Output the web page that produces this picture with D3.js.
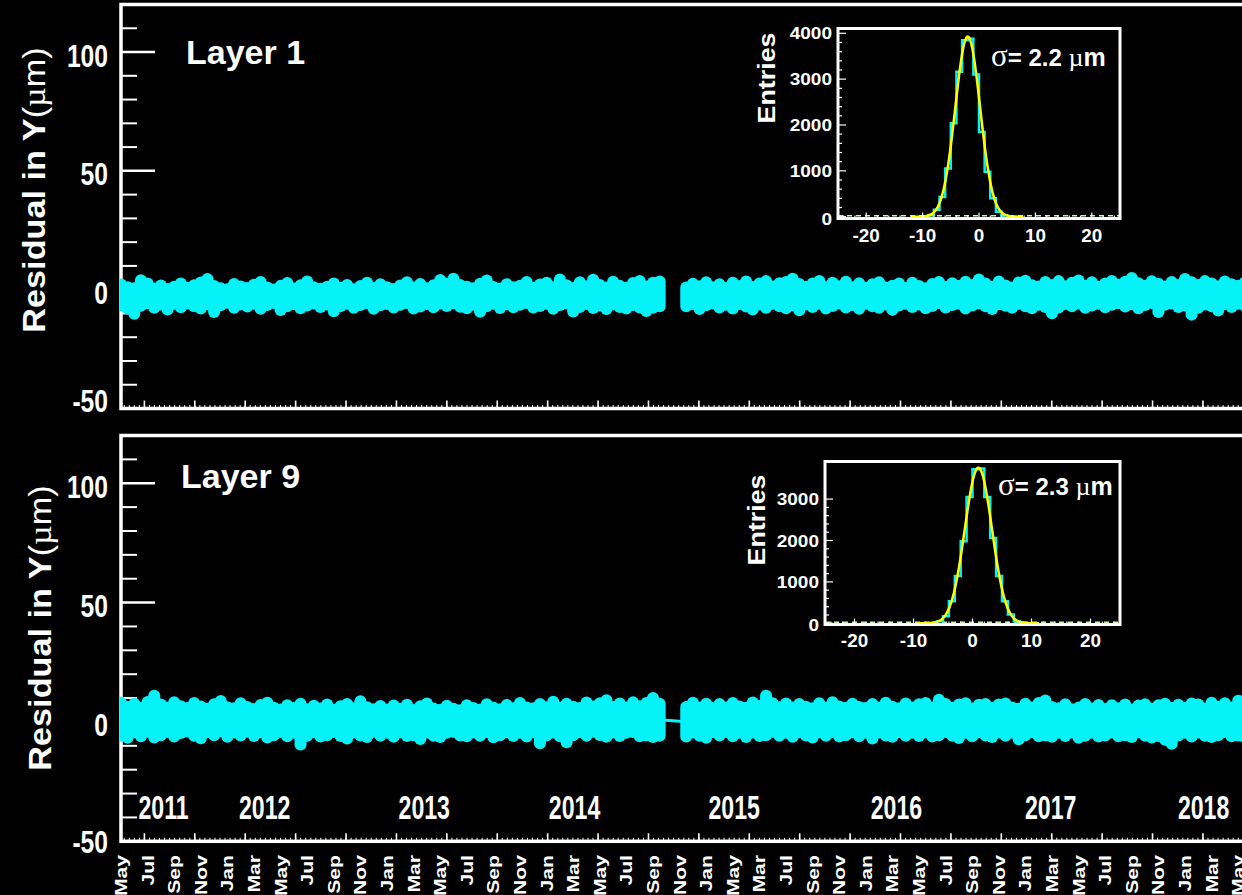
<!DOCTYPE html>
<html>
<head>
<meta charset="utf-8">
<script src="https://cdn.jsdelivr.net/npm/d3@7"></script>
<style>
  body { margin: 0; background: #000; }
  svg { display: block; }
</style>
</head>
<body>
<svg id="chart" width="1242" height="895"></svg>
<script>
// ---- data ----
// month labels under the lower panel, one every 2 months from May 2011 (as printed, incl. the odd 2015 order)
const monthLabels = ["May","Jul","Sep","Nov","Jan","Mar","May","Jul","Sep","Nov","Jan","Mar",
  "May","Jul","Sep","Nov","Jan","Mar","May","Jul","Sep","Nov","Jan","May","Mar","Jul","Sep","Nov",
  "Jan","Mar","May","Jul","Sep","Nov","Jan","Mar","May","Jul","Sep","Nov","Jan","Mar","May"];
const yearLabels = ["2011","2012","2013","2014","2015","2016","2017","2018"];
const yearLabelMonth = [3.2, 10.8, 22.8, 34.1, 46.1, 58.3, 69.9, 81.4]; // months since May 2011
const sampleStep = 0.5; // months between residual samples

// residual band (upper / lower envelope, um), one value per half month, null = no data
const layer1Hi = [2.2,1.0,0.6,4.0,2.6,0.5,1.8,0.3,1.2,2.6, 0.8,1.9,3.0,4.5,1.5,0.6,0.2,2.4,1.3,0.7,
  2.1,3.2,0.9,0.1,1.6,2.8,0.5,1.9,3.4,1.0, 0.4,1.2,2.6,0.8,2.0,0.2,1.5,2.9,0.7,2.3,
  1.0,0.3,1.8,3.1,0.9,2.4,0.6,1.9,4.1,2.5, 4.6,2.0,1.2,0.6,2.5,3.9,1.1,0.5,2.3,1.0,
  1.7,3.2,0.8,2.2,2.9,1.0,4.3,1.9,0.7,3.1, 1.4,4.2,2.0,0.9,3.3,1.6,0.8,2.8,3.7,1.3,
  2.9,3.4,null,null,null,0.9,2.5,1.4,3.1,1.0, 2.3,0.7,2.9,1.5,3.4,1.1,2.6,3.6,1.3,2.7,
  3.2,4.6,2.4,1.2,2.6,3.7,1.0,2.9,1.4,3.3, 1.0,2.7,0.8,2.3,3.1,0.9,1.7,2.6,0.7,2.9,
  1.5,0.6,2.4,3.2,1.1,2.7,1.6,3.3,2.0,4.3, 2.6,1.2,3.4,1.8,0.9,3.0,3.8,1.9,1.3,3.2,
  2.0,3.6,1.4,2.9,3.9,1.6,3.1,1.2,2.6,3.7, 2.1,3.3,4.9,2.7,1.6,3.5,2.5,1.3,3.2,2.0,
  4.5,3.1,2.0,3.6,2.6,1.4,3.4,2.3,1.6,3.0];
const layer1Lo = [-6.5,-7.9,-10.1,-6.8,-5.7,-7.6,-6.2,-8.3,-5.9,-7.4, -5.8,-7.0,-7.9,-6.1,-9.4,-6.6,-5.5,-7.6,-6.2,-7.1,
  -5.9,-8.0,-6.5,-5.6,-8.6,-7.0,-6.0,-7.8,-6.7,-5.8, -7.3,-6.2,-9.1,-7.0,-5.9,-7.6,-6.4,-5.7,-8.0,-6.6,
  -6.0,-7.5,-6.3,-5.6,-7.9,-7.1,-6.0,-7.4,-5.8,-6.9, -5.7,-7.2,-7.8,-6.3,-9.3,-7.0,-5.9,-7.7,-6.1,-7.4,
  -6.3,-5.6,-7.5,-6.9,-5.9,-8.0,-6.5,-5.8,-9.2,-7.3, -6.0,-7.7,-6.7,-8.1,-6.2,-7.3,-7.9,-6.4,-7.5,-9.0,
  -7.6,-7.0,null,null,null,-7.0,-6.0,-8.1,-6.6,-5.8, -7.5,-6.3,-7.9,-6.0,-7.1,-8.3,-6.2,-7.6,-5.9,-7.0,
  -7.8,-6.6,-8.7,-6.2,-7.3,-5.9,-7.9,-6.9,-5.8,-7.5, -6.4,-8.0,-5.9,-7.0,-7.6,-6.2,-8.5,-6.7,-5.9,-7.3,
  -6.2,-7.8,-6.9,-5.6,-7.5,-6.4,-5.9,-7.9,-6.7,-5.8, -7.0,-8.1,-6.1,-6.8,-7.6,-5.9,-7.0,-7.8,-6.3,-7.3,
  -9.9,-7.5,-6.0,-7.0,-5.8,-7.6,-6.7,-5.9,-7.4,-6.3, -5.7,-7.1,-6.1,-7.8,-6.5,-5.6,-9.4,-6.3,-5.8,-7.3,
  -6.7,-10.5,-7.6,-6.2,-7.0,-8.8,-6.0,-7.3,-5.9,-6.8];
const layer9Hi = [8.0,6.4,7.6,5.9,8.4,11.0,7.3,6.0,8.3,6.6, 5.8,7.9,6.5,5.5,7.4,8.8,6.2,5.7,7.8,6.3,
  5.4,7.1,8.0,5.9,5.2,7.0,5.8,7.6,5.3,6.8, 5.6,7.3,5.1,6.6,7.5,5.7,8.7,6.2,5.3,6.7,
  5.2,6.9,5.5,7.2,5.0,6.6,7.7,5.6,5.1,6.8, 5.5,4.9,7.0,5.8,5.2,7.4,6.0,5.3,7.1,5.7,
  7.9,6.1,5.7,7.5,6.2,8.5,5.9,7.6,6.4,5.8, 8.1,6.5,7.8,9.1,6.3,7.7,6.1,8.2,6.6,7.9,
  10.0,7.6,null,null,null,6.3,8.0,6.0,7.6,5.8, 7.5,6.1,7.9,6.5,5.9,8.1,6.7,11.0,7.8,6.2,
  7.7,6.0,7.5,6.4,5.7,7.8,6.1,8.3,6.5,5.9, 7.6,6.3,5.8,7.5,6.0,8.0,6.4,5.7,7.7,6.1,
  7.4,7.9,6.0,9.3,7.5,5.9,7.3,7.8,5.6,7.2, 7.5,5.8,7.3,7.7,6.0,5.5,7.6,6.1,7.9,9.0,
  6.3,5.7,7.4,5.3,6.0,7.5,5.6,7.1,5.4,7.0, 5.7,7.3,5.2,6.9,7.4,5.5,7.0,7.6,5.8,7.2,
  5.9,7.7,7.3,5.6,8.0,6.4,7.8,6.1,8.9,7.6];
const layer9Lo = [-5.7,-6.6,-4.3,-6.0,-4.1,-6.5,-5.6,-4.2,-6.1,-4.6, -4.0,-5.8,-6.8,-4.3,-5.6,-3.9,-6.2,-4.4,-5.7,-4.1,
  -5.9,-4.3,-6.5,-5.6,-4.2,-6.0,-4.5,-9.4,-5.8,-4.3, -6.1,-5.6,-4.2,-5.9,-6.9,-4.4,-5.7,-6.3,-4.1,-5.8,
  -4.5,-6.2,-4.3,-5.9,-5.6,-7.1,-4.4,-5.8,-6.3,-4.5, -4.1,-5.7,-6.0,-4.4,-5.8,-4.2,-6.4,-5.6,-4.3,-5.9,
  -4.5,-6.1,-4.2,-8.9,-5.7,-4.4,-6.0,-8.5,-5.6,-4.3, -5.8,-4.1,-5.5,-6.2,-4.4,-5.9,-4.5,-4.2,-6.0,-5.7,
  -6.3,-5.8,null,null,null,-6.1,-4.4,-5.8,-6.6,-4.3, -5.7,-4.2,-6.0,-4.5,-6.3,-4.4,-5.9,-5.6,-4.1,-5.8,
  -4.5,-6.2,-4.3,-5.7,-6.5,-4.4,-5.8,-4.2,-6.1,-5.6, -4.3,-6.0,-4.5,-6.9,-4.4,-5.7,-6.2,-4.3,-5.8,-4.5,
  -5.9,-4.4,-6.1,-5.6,-4.2,-5.8,-6.7,-4.5,-6.0,-4.3, -5.7,-6.3,-4.4,-5.8,-4.5,-7.2,-5.6,-4.3,-6.0,-5.7,
  -6.2,-4.5,-5.9,-4.4,-6.6,-5.8,-4.5,-6.1,-5.7,-4.4, -6.0,-5.6,-6.3,-4.3,-5.8,-6.5,-5.9,-7.5,-9.1,-5.7,
  -4.5,-6.1,-4.4,-5.8,-6.3,-5.6,-4.2,-6.0,-5.7,-6.4];

// inset histograms: low edge of each 1 um bin and its entries
const hist1BinLow = [-9,-8,-7,-6,-5,-4,-3,-2,-1,0,1,2,3,4];
const hist1Counts = [35,150,430,1050,2040,3160,3850,3880,3100,1850,980,400,110,25];
const hist9BinLow = [-7,-6,-5,-4,-3,-2,-1,0,1,2,3,4,5,6,7,8];
const hist9Counts = [10,50,170,530,1140,1980,3050,3720,3740,3050,2060,1140,530,210,50,10];
// gaussian fit results
const fit1Mean = -2.0, fit1Sigma = 2.2, fit1Amp = 3930;
const fit9Mean = 1.0, fit9Sigma = 2.3, fit9Amp = 3760;

// ---- drawing ----
const CYAN = "#05f2f8";
const FONT = "'Liberation Sans', Arial, Helvetica, sans-serif";
const SERIF = "'Liberation Serif', 'DejaVu Serif', 'Times New Roman', serif";

let svg = d3.select("#chart");
svg.append("rect").attr("width", 1242).attr("height", 895).attr("fill", "#000");

let x = d3.scaleLinear().domain([0, 86]).range([121, 121 + 86 * 13.3]);

function addText(g, txt, px, py, o) {
  let tr = "translate(" + px + "," + py + ")";
  if (o.rot) tr += " rotate(" + o.rot + ")";
  tr += " scale(" + (o.sx || 1) + ",1)";
  let t = g.append("text")
    .attr("transform", tr)
    .attr("text-anchor", o.anchor || "start")
    .attr("fill", "#fff")
    .style("font-family", o.family || FONT)
    .style("font-weight", o.weight || "bold")
    .style("font-size", o.size + "px");
  if (o.dy) t.attr("dy", o.dy);
  if (txt != null) t.text(txt);
  return t;
}

const panels = [
  { name: "Layer 1", hi: layer1Hi, lo: layer1Lo, top: 4.5, bottom: 408.5, connectGap: false,
    nameX: 186, nameY: 63.5, titleX: 45, titleY: 190,
    hist: { low: hist1BinLow, counts: hist1Counts, mean: fit1Mean, sigma: fit1Sigma, amp: fit1Amp,
      x0: 838, x1: 1120, y0: 216.7, yMaxVal: 4000, yMax: 33.3, frameTop: 28.5, frameBottom: 218.5,
      yTicks: [0, 1000, 2000, 3000, 4000], entriesX: 775, entriesY: 78, sigmaX: 991, sigmaY: 66, xLabY: 241.5 } },
  { name: "Layer 9", hi: layer9Hi, lo: layer9Lo, top: 435.5, bottom: 841.3, connectGap: true,
    nameX: 181, nameY: 488, titleX: 51, titleY: 628,
    hist: { low: hist9BinLow, counts: hist9Counts, mean: fit9Mean, sigma: fit9Sigma, amp: fit9Amp,
      x0: 825, x1: 1120, y0: 623.3, yMaxVal: 3000, yMax: 499.1, frameTop: 461.5, frameBottom: 624.5,
      yTicks: [0, 1000, 2000, 3000], entriesX: 765, entriesY: 520, sigmaX: 998, sigmaY: 495, xLabY: 646.5 } }
];

panels.forEach(function(p, k) {
  let g = svg.append("g");
  let y = d3.scaleLinear().domain([-50, 120]).range([p.bottom, p.top]);

  // frame
  g.append("rect").attr("x", 121).attr("y", p.top).attr("width", 1200).attr("height", p.bottom - p.top)
    .attr("fill", "none").attr("stroke", "#fff").attr("stroke-width", 3.5);

  // y ticks
  let minor = d3.range(-40, 120, 10).filter(function(v) { return v % 50 != 0; });
  g.selectAll(".ymin").data(minor).join("line")
    .attr("x1", 121).attr("x2", 137)
    .attr("y1", function(d) { return y(d); }).attr("y2", function(d) { return y(d); })
    .attr("stroke", "#fff").attr("stroke-width", 2);
  g.selectAll(".ymaj").data([100, 50, 0]).join("line")
    .attr("x1", 121).attr("x2", 155)
    .attr("y1", function(d) { return y(d); }).attr("y2", function(d) { return y(d); })
    .attr("stroke", "#fff").attr("stroke-width", 2.5);
  [100, 50, 0, -50].forEach(function(v) {
    let ty = v == -50 ? y(v) - (k == 0 ? 8 : 0) : y(v) + 3;
    addText(g, String(v), 108, ty, { size: 32, sx: 0.77, anchor: "end", dy: "0.36em" });
  });

  // x ticks along the bottom
  let xMaj = d3.range(1.76, 86, 3.79);
  let xMin = d3.range(1.76 - 3.79, 86, 0.379).filter(function(v) { return x(v) > 123; });
  g.selectAll(".xmin").data(xMin).join("line")
    .attr("x1", function(d) { return x(d); }).attr("x2", function(d) { return x(d); })
    .attr("y1", p.bottom).attr("y2", p.bottom - 3.5)
    .attr("stroke", "#fff").attr("stroke-width", 1);
  g.selectAll(".xmaj").data(xMaj).join("line")
    .attr("x1", function(d) { return x(d); }).attr("x2", function(d) { return x(d); })
    .attr("y1", p.bottom).attr("y2", p.bottom - 8)
    .attr("stroke", "#fff").attr("stroke-width", 1.6);

  // residual band, drawn over the frame on the left like the original
  let clipId = "clip" + k;
  svg.append("clipPath").attr("id", clipId).append("rect")
    .attr("x", 119.5).attr("y", p.top + 2).attr("width", 1200).attr("height", p.bottom - p.top - 4);

  let pts = p.hi.map(function(h, i) {
    return { t: i * sampleStep, hi: h, lo: p.lo[i] };
  }).filter(function(d) { return d.hi != null; });

  let band = g.append("g").attr("clip-path", "url(#" + clipId + ")");
  if (p.connectGap) {
    band.append("path").datum(pts)
      .attr("fill", "none").attr("stroke", CYAN).attr("stroke-width", 3)
      .attr("d", d3.line().x(function(d) { return x(d.t); }).y(function(d) { return y((d.hi + d.lo) / 2); }));
  }
  band.selectAll("line").data(pts).join("line")
    .attr("x1", function(d) { return x(d.t); })
    .attr("x2", function(d) { return x(d.t); })
    .attr("y1", function(d) { return y(d.hi); })
    .attr("y2", function(d) { return y(d.lo); })
    .attr("stroke", CYAN).attr("stroke-width", 12).attr("stroke-linecap", "round");

  // panel name and axis title
  addText(g, p.name, p.nameX, p.nameY, { size: 34 });
  let title = addText(g, null, p.titleX, p.titleY, { size: 32, rot: -90, sx: 1.07, anchor: "middle" });
  title.append("tspan").text("Residual in Y");
  title.append("tspan").style("font-weight", "normal").text("(");
  title.append("tspan").style("font-weight", "normal").style("font-family", SERIF).text("\u00b5");
  title.append("tspan").style("font-weight", "normal").text("m)");

  // inset histogram
  let h = p.hist;
  let hx = d3.scaleLinear().domain([-25, 25]).range([h.x0, h.x1]);
  let hy = d3.scaleLinear().domain([0, h.yMaxVal]).range([h.y0, h.yMax]);
  let hg = svg.append("g");
  let hClip = "hclip" + k;
  svg.append("clipPath").attr("id", hClip).append("rect")
    .attr("x", h.x0).attr("y", h.frameTop).attr("width", h.x1 - h.x0).attr("height", h.frameBottom - h.frameTop);
  hg.append("rect").attr("x", h.x0).attr("y", h.frameTop).attr("width", h.x1 - h.x0)
    .attr("height", h.frameBottom - h.frameTop).attr("fill", "#000");

  let inner = hg.append("g").attr("clip-path", "url(#" + hClip + ")");
  // dashed zero line of the fit function
  inner.append("line").attr("x1", h.x0).attr("x2", h.x1).attr("y1", hy(0) - 1).attr("y2", hy(0) - 1)
    .attr("stroke", "#c8f5b0").attr("stroke-width", 1.5).attr("stroke-dasharray", "5,4");

  let step = [[h.low[0], 0]];
  h.low.forEach(function(lo, i) {
    step.push([lo, h.counts[i]]);
    step.push([lo + 1, h.counts[i]]);
  });
  step.push([h.low[h.low.length - 1] + 1, 0]);
  inner.append("path").datum(step)
    .attr("fill", "none").attr("stroke", CYAN).attr("stroke-width", 2.5)
    .attr("d", d3.line().x(function(d) { return hx(d[0]); }).y(function(d) { return hy(d[1]); }));

  let fitX = d3.range(h.mean - 4.5 * h.sigma, h.mean + 4.5 * h.sigma, 0.1);
  inner.append("path").datum(fitX)
    .attr("fill", "none").attr("stroke", "#ffff00").attr("stroke-width", 2.5)
    .attr("d", d3.line().curve(d3.curveBasis)
      .x(function(d) { return hx(d); })
      .y(function(d) { return hy(h.amp * Math.exp(-0.5 * Math.pow((d - h.mean) / h.sigma, 2))); }));

  // inset ticks
  let hyMinor = d3.range(0, h.yMaxVal + 200, 200).filter(function(v) { return hy(v) > h.frameTop + 2; });
  hg.selectAll(".hymin").data(hyMinor).join("line")
    .attr("x1", h.x0).attr("x2", function(d) { return d % 1000 == 0 ? h.x0 + 8 : h.x0 + 4; })
    .attr("y1", function(d) { return hy(d); }).attr("y2", function(d) { return hy(d); })
    .attr("stroke", "#fff").attr("stroke-width", 1.2);
  hg.selectAll(".hxmin").data(d3.range(-24, 26, 2)).join("line")
    .attr("x1", function(d) { return hx(d); }).attr("x2", function(d) { return hx(d); })
    .attr("y1", h.frameBottom).attr("y2", function(d) { return d % 10 == 0 ? h.frameBottom - 6 : h.frameBottom - 3; })
    .attr("stroke", "#fff").attr("stroke-width", 1.2);

  hg.append("rect").attr("x", h.x0).attr("y", h.frameTop).attr("width", h.x1 - h.x0)
    .attr("height", h.frameBottom - h.frameTop).attr("fill", "none").attr("stroke", "#fff").attr("stroke-width", 3);

  h.yTicks.forEach(function(v) {
    addText(hg, String(v), h.x0 - 6, hy(v) + (v == 0 ? 2 : 0), { size: 17, sx: 1.12, anchor: "end", dy: "0.36em" });
  });
  [-20, -10, 0, 10, 20].forEach(function(v) {
    addText(hg, String(v), hx(v), h.xLabY, { size: 18, sx: 1.05, anchor: "middle" });
  });
  addText(hg, "Entries", h.entriesX, h.entriesY, { size: 24, rot: -90, sx: 1.12, anchor: "middle" });

  let s = hg.append("text").attr("x", h.sigmaX).attr("y", h.sigmaY).attr("fill", "#fff");
  s.append("tspan").style("font-family", SERIF).style("font-size", "31px").text("\u03c3");
  s.append("tspan").style("font-family", FONT).style("font-weight", "bold").style("font-size", "24px")
    .text("= " + h.sigma.toFixed(1) + " ");
  s.append("tspan").style("font-family", SERIF).style("font-size", "26px").text("\u00b5");
  s.append("tspan").style("font-family", FONT).style("font-weight", "bold").style("font-size", "25px").text("m");
});

// month and year labels under the lower panel
let lab = svg.append("g");
monthLabels.forEach(function(m, i) {
  addText(lab, m, x(i * 2), 855, { size: 16.5, rot: -90, sx: 1.28, anchor: "end", dy: "0.36em" });
});
yearLabels.forEach(function(yr, i) {
  addText(lab, yr, x(yearLabelMonth[i]), 819, { size: 34, sx: 0.68, anchor: "middle" });
});
</script>
</body>
</html>
